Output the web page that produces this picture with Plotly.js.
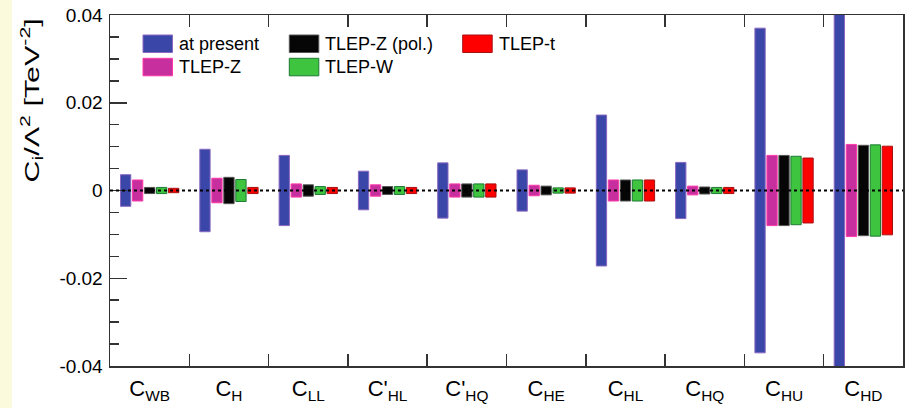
<!DOCTYPE html>
<html>
<head>
<meta charset="utf-8">
<script src="https://cdn.plot.ly/plotly-3.0.1.min.js"></script>
<style>
  html, body { margin: 0; padding: 0; background: #ffffff; }
  #wrap { position: relative; width: 913px; height: 408px; overflow: hidden; }
  #strip { position: absolute; left: 0; top: 0; width: 12px; height: 408px; background: #fcfadc; }
  #chart { position: absolute; left: 0; top: 0; width: 913px; height: 408px; }
  /* widen the glyphs of the rotated y-axis title along its baseline */
  #chart text[data-unformatted^="C<sub>i</sub>"] {
    transform-box: fill-box; transform-origin: center; transform: scaleX(1.45);
  }
</style>
</head>
<body>
<div id="wrap">
  <div id="strip"></div>
  <div id="chart"></div>
</div>
<script>
// Wilson coefficients on the x axis
const categories = [
  'C<sub>WB</sub>', 'C<sub>H</sub>', 'C<sub>LL</sub>', "C'<sub>HL</sub>", "C'<sub>HQ</sub>",
  'C<sub>HE</sub>', 'C<sub>HL</sub>', 'C<sub>HQ</sub>', 'C<sub>HU</sub>', 'C<sub>HD</sub>'
];

const seriesNames = ['at present', 'TLEP-Z', 'TLEP-Z (pol.)', 'TLEP-W', 'TLEP-t'];

// Half-width of the allowed interval (symmetric around zero), in TeV^-2
const atPresent = [0.0036, 0.0094, 0.0080, 0.0044, 0.0063, 0.0047, 0.0172, 0.0064, 0.0370, 0.0500];
const tlepZ     = [0.0024, 0.0028, 0.0015, 0.0013, 0.0015, 0.0012, 0.0024, 0.0010, 0.0080, 0.0105];
const tlepZpol  = [0.0007, 0.0030, 0.0013, 0.0009, 0.0015, 0.0010, 0.0024, 0.0008, 0.0080, 0.0103];
const tlepW     = [0.0007, 0.0025, 0.0009, 0.0009, 0.0015, 0.0006, 0.0024, 0.0007, 0.0078, 0.0104];
const tlepT     = [0.0005, 0.0007, 0.0007, 0.0007, 0.0015, 0.0006, 0.0024, 0.0007, 0.0074, 0.0101];

const yTickVals = [-0.04, -0.02, 0, 0.02, 0.04];
const yTickText = ['-0.04', '-0.02', '0', '0.02', '0.04'];

const seriesValues = [atPresent, tlepZ, tlepZpol, tlepW, tlepT];
const fills   = ['#3a46a8', '#c82f9e', '#060606', '#3ec43e', '#ff0000'];
const borders = ['#8a68c0', '#ff3aa8', '#555555', '#1d7a36', '#a81010'];

const barWidth = 0.13;
const barStep = 0.1513;

const traces = seriesValues.map((vals, k) => ({
  type: 'bar',
  name: seriesNames[k],
  x: categories,
  y: vals.map(v => 2 * v),
  base: vals.map(v => -v),
  width: barWidth,
  offset: (k - 2) * barStep - barWidth / 2,
  marker: { color: fills[k], line: { color: borders[k], width: 1 } },
  showlegend: false,
  hoverinfo: 'skip'
}));

// Plot frame in pixels
const L = 110, R = 903, T = 15, B = 366;
const px = x => (x - L) / (R - L);
const py = y => (B - y) / (B - T);

// Hand-placed legend: boxes and labels in two rows
const legendCells = [
  { k: 0, x: 143,   y: 35 },
  { k: 1, x: 143,   y: 58.3 },
  { k: 2, x: 289.3, y: 35 },
  { k: 3, x: 289.3, y: 58.3 },
  { k: 4, x: 462.7, y: 35 }
];
const shapes = [];
const annotations = [];
legendCells.forEach(c => {
  shapes.push({
    type: 'rect', xref: 'paper', yref: 'paper',
    x0: px(c.x), x1: px(c.x + 29.5), y0: py(c.y + 17.5), y1: py(c.y),
    fillcolor: fills[c.k], line: { color: borders[c.k], width: 1 }, layer: 'above'
  });
  annotations.push({
    xref: 'paper', yref: 'paper', x: px(c.x + 34), y: py(c.y + 8.5),
    xanchor: 'left', yanchor: 'middle', showarrow: false,
    text: seriesNames[c.k], font: { size: 18, color: '#000' }
  });
});

// y-axis title, set towards the top of the axis
annotations.push({
  xref: 'paper', yref: 'paper', x: px(31), y: py(101),
  xanchor: 'center', yanchor: 'middle', textangle: -90, showarrow: false,
  text: 'C<sub>i</sub>/Λ<sup>2</sup> [TeV<sup>-2</sup>]', font: { size: 21, color: '#000' }
});

// dotted zero line on top of the bars
shapes.push({
  type: 'line', xref: 'paper', yref: 'y', x0: 0, x1: 1, y0: 0, y1: 0,
  line: { color: '#000', width: 2, dash: 'dot' }, layer: 'above'
});

const layout = {
  width: 913, height: 408,
  margin: { l: L, r: 913 - R, t: T, b: 408 - B },
  paper_bgcolor: 'rgba(0,0,0,0)',
  plot_bgcolor: '#ffffff',
  font: { family: '"Liberation Sans", Arial, Helvetica, sans-serif', color: '#000' },
  barmode: 'overlay',
  showlegend: false,
  xaxis: {
    type: 'category',
    range: [-0.5, 9.5],
    tickson: 'boundaries',
    ticks: 'inside', ticklen: 12, tickwidth: 1.5, tickcolor: '#333',
    showline: true, linecolor: '#333', linewidth: 1.5, mirror: 'ticks',
    showgrid: false, zeroline: false,
    tickfont: { size: 22 },
    ticklabelstandoff: 2,
    fixedrange: true
  },
  yaxis: {
    range: [-0.04, 0.04],
    tickmode: 'array', tickvals: yTickVals, ticktext: yTickText,
    ticks: 'inside', ticklen: 17, tickwidth: 1.5, tickcolor: '#333',
    minor: { tickmode: 'linear', tick0: 0, dtick: 0.005, ticks: 'inside', ticklen: 9, tickwidth: 1.5, tickcolor: '#333', showgrid: false },
    showline: true, linecolor: '#333', linewidth: 1.5, mirror: true,
    showgrid: false, zeroline: false,
    tickfont: { size: 19 },
    ticklabelstandoff: 2,
    fixedrange: true
  },
  shapes: shapes,
  annotations: annotations
};

Plotly.newPlot('chart', traces, layout, { displayModeBar: false, staticPlot: true });
</script>
</body>
</html>
